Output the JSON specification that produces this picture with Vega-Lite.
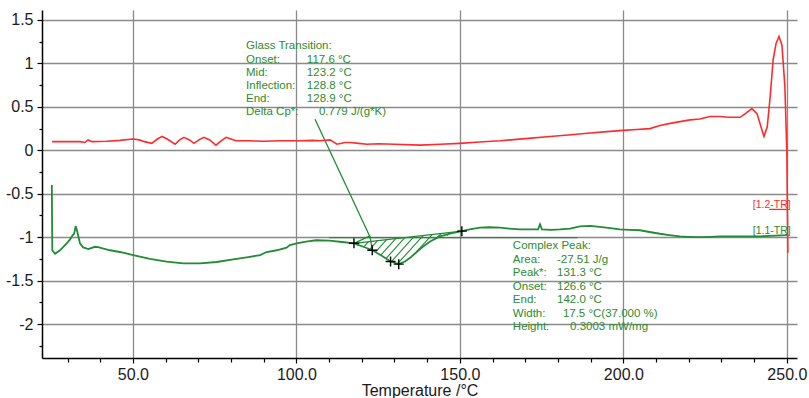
{
  "$schema": "https://vega.github.io/schema/vega-lite/v6.json",
  "width": 755,
  "height": 348,
  "autosize": {"type": "none"},
  "padding": {"left": 42, "top": 10, "right": 12, "bottom": 40},
  "background": "white",
  "config": {
    "view": {"stroke": null},
    "font": "Liberation Sans",
    "axis": {
      "domainColor": "#000000",
      "domainWidth": 1.5,
      "tickColor": "#000000",
      "tickWidth": 1.2,
      "labelColor": "#1a1a1a",
      "labelFontSize": 16,
      "labelFont": "Liberation Sans",
      "gridColor": "#8a8a8a",
      "gridWidth": 1.3,
      "labelOverlap": false,
      "labelFlush": false
    }
  },
  "datasets": {
    "red": [
      {"T": 25.3, "v": 0.10}, {"T": 30, "v": 0.10}, {"T": 33.8, "v": 0.10}, {"T": 35.3, "v": 0.09}, {"T": 36.3, "v": 0.12},
      {"T": 37.5, "v": 0.10}, {"T": 42, "v": 0.105}, {"T": 46, "v": 0.115}, {"T": 50.0, "v": 0.13}, {"T": 52, "v": 0.12},
      {"T": 53.5, "v": 0.10}, {"T": 55.8, "v": 0.08}, {"T": 57.5, "v": 0.13}, {"T": 58.9, "v": 0.16}, {"T": 60.5, "v": 0.13},
      {"T": 62.9, "v": 0.07}, {"T": 64.3, "v": 0.12}, {"T": 65.6, "v": 0.15}, {"T": 67.3, "v": 0.12}, {"T": 68.7, "v": 0.08},
      {"T": 70.2, "v": 0.12}, {"T": 71.7, "v": 0.15}, {"T": 73.5, "v": 0.12}, {"T": 75.4, "v": 0.06}, {"T": 77, "v": 0.11},
      {"T": 78.5, "v": 0.15}, {"T": 80, "v": 0.13}, {"T": 81.5, "v": 0.11}, {"T": 85, "v": 0.11}, {"T": 90, "v": 0.105},
      {"T": 95, "v": 0.11}, {"T": 101.1, "v": 0.11}, {"T": 105, "v": 0.115}, {"T": 107.2, "v": 0.11}, {"T": 110.3, "v": 0.12},
      {"T": 112.4, "v": 0.07}, {"T": 114.9, "v": 0.09}, {"T": 116.4, "v": 0.09}, {"T": 119, "v": 0.08}, {"T": 121.6, "v": 0.07},
      {"T": 125, "v": 0.075}, {"T": 130, "v": 0.07}, {"T": 137.8, "v": 0.06}, {"T": 144, "v": 0.07}, {"T": 150, "v": 0.08},
      {"T": 156, "v": 0.095}, {"T": 162.3, "v": 0.11}, {"T": 170, "v": 0.135}, {"T": 177.6, "v": 0.16}, {"T": 184, "v": 0.18},
      {"T": 189.8, "v": 0.20}, {"T": 195, "v": 0.215}, {"T": 199.9, "v": 0.23}, {"T": 204, "v": 0.24}, {"T": 208.1, "v": 0.25},
      {"T": 211.2, "v": 0.285}, {"T": 214.3, "v": 0.31}, {"T": 217.3, "v": 0.33}, {"T": 220.4, "v": 0.35}, {"T": 223.4, "v": 0.36},
      {"T": 226.5, "v": 0.39}, {"T": 229.6, "v": 0.39}, {"T": 232, "v": 0.38}, {"T": 235.7, "v": 0.38}, {"T": 237.2, "v": 0.42},
      {"T": 239.3, "v": 0.48}, {"T": 240.9, "v": 0.42}, {"T": 242.4, "v": 0.23}, {"T": 243.0, "v": 0.16}, {"T": 244.0, "v": 0.27},
      {"T": 244.9, "v": 0.62}, {"T": 245.8, "v": 1.04}, {"T": 246.7, "v": 1.23}, {"T": 247.6, "v": 1.31}, {"T": 248.5, "v": 1.21},
      {"T": 249.4, "v": 0.73}, {"T": 250.0, "v": -0.03}, {"T": 250.3, "v": -1.18}
    ],
    "green": [
      {"T": 25.2, "v": -0.40}, {"T": 25.35, "v": -1.15}, {"T": 26.2, "v": -1.19}, {"T": 27.7, "v": -1.15}, {"T": 29.75, "v": -1.07},
      {"T": 30.8, "v": -1.025}, {"T": 31.6, "v": -0.975}, {"T": 32.0, "v": -0.964}, {"T": 32.5, "v": -0.872}, {"T": 33.0, "v": -0.937},
      {"T": 33.8, "v": -1.07}, {"T": 34.8, "v": -1.117}, {"T": 36.4, "v": -1.136}, {"T": 38.4, "v": -1.11}, {"T": 39.4, "v": -1.115},
      {"T": 41.0, "v": -1.13}, {"T": 43, "v": -1.15}, {"T": 46, "v": -1.17}, {"T": 50.1, "v": -1.205}, {"T": 55.2, "v": -1.25},
      {"T": 60.3, "v": -1.28}, {"T": 65.4, "v": -1.30}, {"T": 70.5, "v": -1.30}, {"T": 75.6, "v": -1.285}, {"T": 80.7, "v": -1.255},
      {"T": 85.8, "v": -1.225}, {"T": 88.9, "v": -1.205}, {"T": 90.9, "v": -1.17}, {"T": 94.0, "v": -1.15}, {"T": 97.0, "v": -1.12},
      {"T": 98.0, "v": -1.09}, {"T": 100.1, "v": -1.07}, {"T": 103, "v": -1.05}, {"T": 106, "v": -1.035}, {"T": 110, "v": -1.04},
      {"T": 114, "v": -1.055}, {"T": 117.6, "v": -1.07}, {"T": 120.5, "v": -1.11}, {"T": 123.2, "v": -1.15}, {"T": 126, "v": -1.21},
      {"T": 128.8, "v": -1.28}, {"T": 131.3, "v": -1.31}, {"T": 133.2, "v": -1.28}, {"T": 135, "v": -1.23}, {"T": 136.8, "v": -1.17},
      {"T": 139, "v": -1.10}, {"T": 140.9, "v": -1.05}, {"T": 143.9, "v": -0.99}, {"T": 147, "v": -0.96}, {"T": 150.6, "v": -0.93},
      {"T": 153, "v": -0.91}, {"T": 156.1, "v": -0.89}, {"T": 159, "v": -0.885}, {"T": 162.3, "v": -0.89}, {"T": 165, "v": -0.90},
      {"T": 168.4, "v": -0.91}, {"T": 173.9, "v": -0.91}, {"T": 174.5, "v": -0.85}, {"T": 175.1, "v": -0.91}, {"T": 178, "v": -0.915},
      {"T": 180.6, "v": -0.91}, {"T": 183.7, "v": -0.90}, {"T": 186.7, "v": -0.875}, {"T": 189.8, "v": -0.87}, {"T": 192.8, "v": -0.88},
      {"T": 196, "v": -0.895}, {"T": 198.9, "v": -0.91}, {"T": 202, "v": -0.915}, {"T": 205.1, "v": -0.92}, {"T": 208, "v": -0.94},
      {"T": 211.2, "v": -0.96}, {"T": 214, "v": -0.975}, {"T": 217.3, "v": -0.99}, {"T": 220, "v": -0.995}, {"T": 223.4, "v": -1.00},
      {"T": 226.5, "v": -0.995}, {"T": 229.6, "v": -0.99}, {"T": 235.7, "v": -0.99}, {"T": 241.8, "v": -0.99}, {"T": 245, "v": -0.985},
      {"T": 249.4, "v": -0.975}, {"T": 250.2, "v": -0.97}
    ],
    "hatch": [
      {"T": 118.62, "v": -1.097, "T2": 119.33, "v2": -1.060},
      {"T": 120.55, "v": -1.113, "T2": 122.11, "v2": -1.049},
      {"T": 122.51, "v": -1.136, "T2": 124.89, "v2": -1.037},
      {"T": 124.28, "v": -1.167, "T2": 127.67, "v2": -1.026},
      {"T": 125.81, "v": -1.207, "T2": 130.46, "v2": -1.014},
      {"T": 127.37, "v": -1.246, "T2": 133.24, "v2": -1.003},
      {"T": 128.96, "v": -1.284, "T2": 136.02, "v2": -0.991},
      {"T": 130.79, "v": -1.311, "T2": 138.81, "v2": -0.980},
      {"T": 136.70, "v": -1.170, "T2": 141.59, "v2": -0.968},
      {"T": 142.60, "v": -1.020, "T2": 144.34, "v2": -0.957},
      {"T": 146.14, "v": -0.980, "T2": 147.12, "v2": -0.945}
    ],
    "greenSegs": [
      {"T": 117.6, "v": -1.07, "T2": 150.6, "v2": -0.93},
      {"T": 110, "v": -1.005, "T2": 186, "v2": -1.005},
      {"T": 117.6, "v": -1.07, "T2": 122.5, "v2": -0.985},
      {"T": 122.5, "v": -0.985, "T2": 123.2, "v2": -1.15},
      {"T": 105.7, "v": 0.357, "T2": 122.5, "v2": -0.995}
    ],
    "redSegs": [
      {"T": 244.6, "v": -0.68, "T2": 250.1, "v2": -0.68}
    ],
    "markers": [
      {"T": 117.6, "v": -1.07}, {"T": 123.2, "v": -1.15}, {"T": 128.8, "v": -1.28}, {"T": 131.3, "v": -1.31}, {"T": 150.6, "v": -0.93}
    ],
    "greenText": [
      {"T": 84.6, "v": 1.20, "s": "Glass Transition:"},
      {"T": 84.6, "v": 1.045, "s": "Onset:"}, {"T": 103.2, "v": 1.045, "s": "117.6 °C"},
      {"T": 84.6, "v": 0.893, "s": "Mid:"}, {"T": 103.2, "v": 0.893, "s": "123.2 °C"},
      {"T": 84.6, "v": 0.741, "s": "Inflection:"}, {"T": 103.2, "v": 0.741, "s": "128.8 °C"},
      {"T": 84.6, "v": 0.589, "s": "End:"}, {"T": 103.2, "v": 0.589, "s": "128.9 °C"},
      {"T": 84.6, "v": 0.437, "s": "Delta Cp*:"}, {"T": 106.9, "v": 0.437, "s": "0.779 J/(g*K)"},
      {"T": 166.2, "v": -1.102, "s": "Complex Peak:"},
      {"T": 166.2, "v": -1.257, "s": "Area:"}, {"T": 179.7, "v": -1.257, "s": "-27.51 J/g"},
      {"T": 166.2, "v": -1.413, "s": "Peak*:"}, {"T": 179.7, "v": -1.413, "s": "131.3 °C"},
      {"T": 166.2, "v": -1.568, "s": "Onset:"}, {"T": 179.7, "v": -1.568, "s": "126.6 °C"},
      {"T": 166.2, "v": -1.723, "s": "End:"}, {"T": 179.7, "v": -1.723, "s": "142.0 °C"},
      {"T": 166.2, "v": -1.879, "s": "Width:"}, {"T": 181.5, "v": -1.879, "s": "17.5 °C(37.000 %)"},
      {"T": 166.2, "v": -2.034, "s": "Height:"}, {"T": 183.7, "v": -2.034, "s": "0.3003 mW/mg"}
    ],
    "greenTag": [{"T": 239.6, "v": -0.93, "s": "[1.1-TR]"}],
    "redTag": [{"T": 239.6, "v": -0.63, "s": "[1.2-TR]"}]
  },
  "encoding": {
    "x": {
      "field": "T",
      "type": "quantitative",
      "scale": {"domain": [22.2, 253.1], "nice": false, "zero": false},
      "axis": {
        "values": [30, 40, 50, 60, 70, 80, 90, 100, 110, 120, 130, 140, 150, 160, 170, 180, 190, 200, 210, 220, 230, 240, 250],
        "labelExpr": "datum.value % 50 == 0 ? format(datum.value, '.1f') : ''",
        "grid": true,
        "gridOpacity": {"condition": {"test": "datum.value % 50 == 0", "value": 1}, "value": 0},
        "tickSize": {"condition": {"test": "datum.value % 50 == 0", "value": 5}, "value": 4},
        "labelPadding": 3,
        "title": "Temperature /°C",
        "titleFontSize": 16,
        "titleFontWeight": "normal",
        "titleColor": "#1a1a1a",
        "titleFont": "Liberation Sans",
        "titlePadding": 0
      }
    },
    "y": {
      "field": "v",
      "type": "quantitative",
      "scale": {"domain": [-2.39, 1.615], "nice": false, "zero": false},
      "axis": {
        "values": [-2.25, -2, -1.75, -1.5, -1.25, -1, -0.75, -0.5, -0.25, 0, 0.25, 0.5, 0.75, 1, 1.25, 1.5],
        "labelExpr": "abs(datum.value * 2 - round(datum.value * 2)) < 0.001 ? '' + datum.value : ''",
        "grid": true,
        "gridOpacity": {"condition": {"test": "abs(datum.value * 2 - round(datum.value * 2)) < 0.001", "value": 1}, "value": 0},
        "tickSize": {"condition": {"test": "abs(datum.value * 2 - round(datum.value * 2)) < 0.001", "value": 5}, "value": 3},
        "labelPadding": 4,
        "title": null
      }
    }
  },
  "layer": [
    {
      "data": {"name": "hatch"},
      "mark": {"type": "rule", "color": "#228b34", "strokeWidth": 1.1},
      "encoding": {"x2": {"field": "T2"}, "y2": {"field": "v2"}}
    },
    {
      "data": {"name": "greenSegs"},
      "mark": {"type": "rule", "color": "#228b34", "strokeWidth": 1.3},
      "encoding": {"x2": {"field": "T2"}, "y2": {"field": "v2"}}
    },
    {
      "data": {"name": "redSegs"},
      "mark": {"type": "rule", "color": "#ff2b2b", "strokeWidth": 1.3},
      "encoding": {"x2": {"field": "T2"}, "y2": {"field": "v2"}}
    },
    {
      "data": {"name": "red"},
      "mark": {"type": "line", "color": "#ff2b2b", "strokeWidth": 1.6}
    },
    {
      "data": {"name": "green"},
      "mark": {"type": "line", "color": "#228b34", "strokeWidth": 1.8}
    },
    {
      "data": {"name": "markers"},
      "mark": {"type": "point", "shape": "M-1,0L1,0M0,-1L0,1", "size": 100, "stroke": "#000000", "strokeWidth": 1.4, "filled": false, "opacity": 1}
    },
    {
      "data": {"name": "greenText"},
      "mark": {"type": "text", "align": "left", "baseline": "middle", "fontSize": 11.5, "color": "#2e8b2e", "font": "Liberation Sans"},
      "encoding": {"text": {"field": "s"}}
    },
    {
      "data": {"name": "greenTag"},
      "mark": {"type": "text", "align": "left", "baseline": "middle", "fontSize": 10.5, "color": "#2e8b2e", "font": "Liberation Sans"},
      "encoding": {"text": {"field": "s"}}
    },
    {
      "data": {"name": "redTag"},
      "mark": {"type": "text", "align": "left", "baseline": "middle", "fontSize": 10.5, "color": "#ff2b2b", "font": "Liberation Sans"},
      "encoding": {"text": {"field": "s"}}
    }
  ]
}
